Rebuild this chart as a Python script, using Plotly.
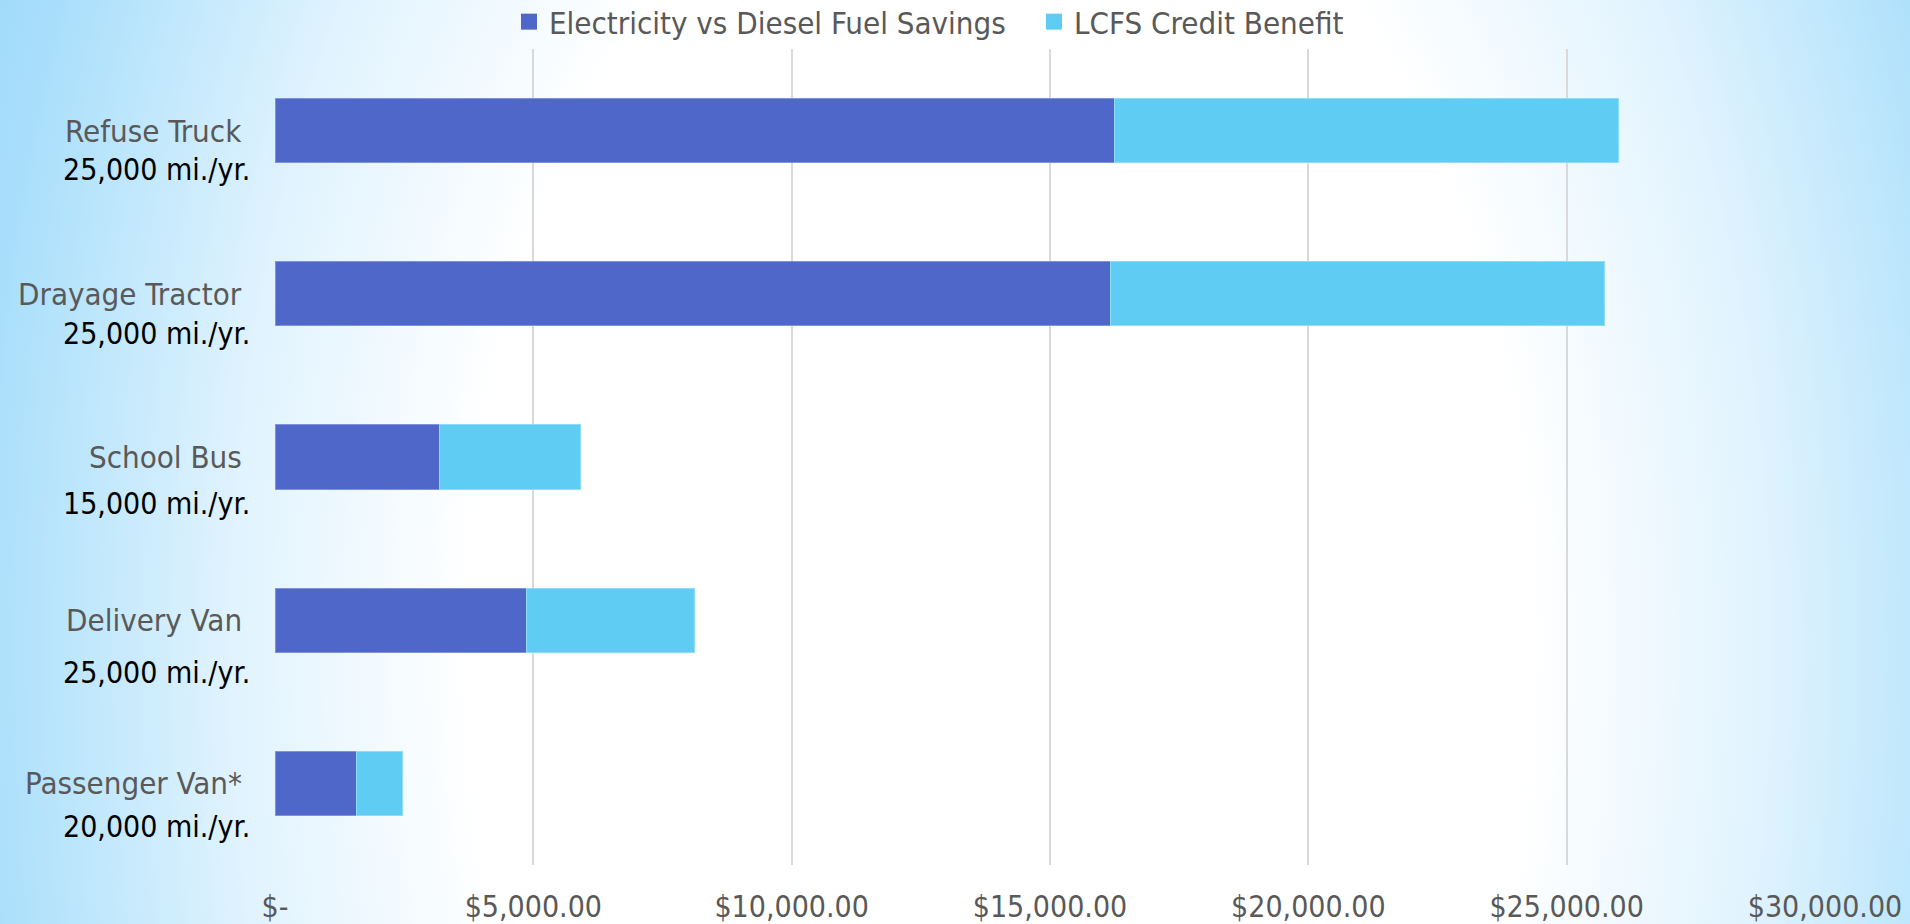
import base64
import plotly.graph_objects as go

# ---- data ----
vehicles = ["Refuse Truck", "Drayage Tractor", "School Bus", "Delivery Van", "Passenger Van*"]
mileage = ["25,000 mi./yr.", "25,000 mi./yr.", "15,000 mi./yr.", "25,000 mi./yr.", "20,000 mi./yr."]
fuel_savings = [16243, 16170, 3178, 4859, 1581]
lcfs_benefit = [9764, 9570, 2726, 3267, 877]
x_tickvals = [0, 5000, 10000, 15000, 20000, 25000, 30000]
x_ticktext = ["$-", "$5,000.00", "$10,000.00", "$15,000.00", "$20,000.00", "$25,000.00", "$30,000.00"]
series_names = ["Electricity vs Diesel Fuel Savings", "LCFS Credit Benefit"]
series_colors = ["#4F67C8", "#5FCDF3"]
series_edges = ["#7F93DC", "#8EDDF8"]

# ---- layout constants ----
W, H = 1910, 924
ML, MR, MT, MB = 275, 85, 49, 59
PW, PH = W - ML - MR, H - MT - MB
FONT = "DejaVu Sans Condensed, DejaVu Sans, sans-serif"
GRAY = "#595959"
mileage_shift = [-39, -40, -46, -52, -43]

# elliptical radial gradient background as svg
svg = f'''<svg xmlns="http://www.w3.org/2000/svg" width="{W}" height="{H}" viewBox="0 0 {W} {H}">
<defs><radialGradient id="g" gradientUnits="userSpaceOnUse" cx="0" cy="0" r="2.1"
 gradientTransform="translate(1000 650) scale(530 860)">
<stop offset="0" stop-color="#ffffff"/>
<stop offset="0.476" stop-color="#ffffff"/>
<stop offset="0.69" stop-color="#e0f3fe"/>
<stop offset="0.914" stop-color="#aadffb"/>
<stop offset="1" stop-color="#9dd7fb"/>
</radialGradient></defs>
<rect x="0" y="0" width="{W}" height="{H}" fill="url(#g)"/></svg>'''
src = "data:image/svg+xml;base64," + base64.b64encode(svg.encode()).decode()

fig = go.Figure()
for vals, name, col, edge in zip([fuel_savings, lcfs_benefit], series_names, series_colors, series_edges):
    fig.add_trace(go.Bar(
        y=vehicles, x=vals, orientation="h", name=name, showlegend=False,
        marker=dict(color=col, line=dict(color=edge, width=1)),
    ))
# legend proxies with larger square swatches
for i, (name, col) in enumerate(zip(series_names, series_colors)):
    fig.add_trace(go.Scatter(
        x=[None], y=[None], mode="markers", name=name,
        marker=dict(symbol="square", size=17, color=col),
        legendrank=i + 1,
    ))

annotations = []
for i, (v, m) in enumerate(zip(vehicles, mileage)):
    annotations.append(dict(
        xref="paper", yref="y", x=0, y=v, text=v, showarrow=False,
        xanchor="right", yanchor="middle", xshift=-31,
        font=dict(family=FONT, size=31, color=GRAY),
    ))
    annotations.append(dict(
        xref="paper", yref="y", x=0, y=v, text=m, showarrow=False,
        xanchor="right", yanchor="middle", xshift=-23, yshift=mileage_shift[i],
        font=dict(family=FONT, size=30, color="#000000"),
    ))

fig.update_layout(
    width=W, height=H,
    margin=dict(l=ML, r=MR, t=MT, b=MB, pad=0, autoexpand=False),
    barmode="stack", bargap=0.606,
    paper_bgcolor="#ffffff", plot_bgcolor="rgba(0,0,0,0)",
    font=dict(family=FONT, color=GRAY),
    showlegend=True,
    legend=dict(
        orientation="h", x=(1034 - ML) / PW, xanchor="center",
        y=1 + 27 / PH, yanchor="middle",
        font=dict(family=FONT, size=31, color=GRAY),
        bgcolor="rgba(0,0,0,0)", itemwidth=30, traceorder="normal",
        entrywidth=480,
    ),
    xaxis=dict(
        range=[0, 30000], tickvals=x_tickvals, ticktext=x_ticktext,
        showgrid=True, gridcolor="#d9d9d9", gridwidth=1.5,
        zeroline=False, showline=False, ticks="",
        ticklabelstandoff=21,
        tickfont=dict(family=FONT, size=30, color=GRAY),
        fixedrange=True,
    ),
    yaxis=dict(
        autorange="reversed", showticklabels=False, showgrid=False,
        zeroline=False, showline=False, ticks="",
        categoryorder="array", categoryarray=vehicles, fixedrange=True,
    ),
    annotations=annotations,
    images=[dict(
        source=src, xref="paper", yref="paper",
        x=-ML / PW, y=1 + MT / PH, sizex=W / PW, sizey=H / PH,
        xanchor="left", yanchor="top", sizing="stretch", layer="below",
    )],
)

fig.write_html(
    "out.html",
    config={"displayModeBar": False},
    post_script="document.body.style.margin='0';document.body.style.overflow='hidden';",
)
